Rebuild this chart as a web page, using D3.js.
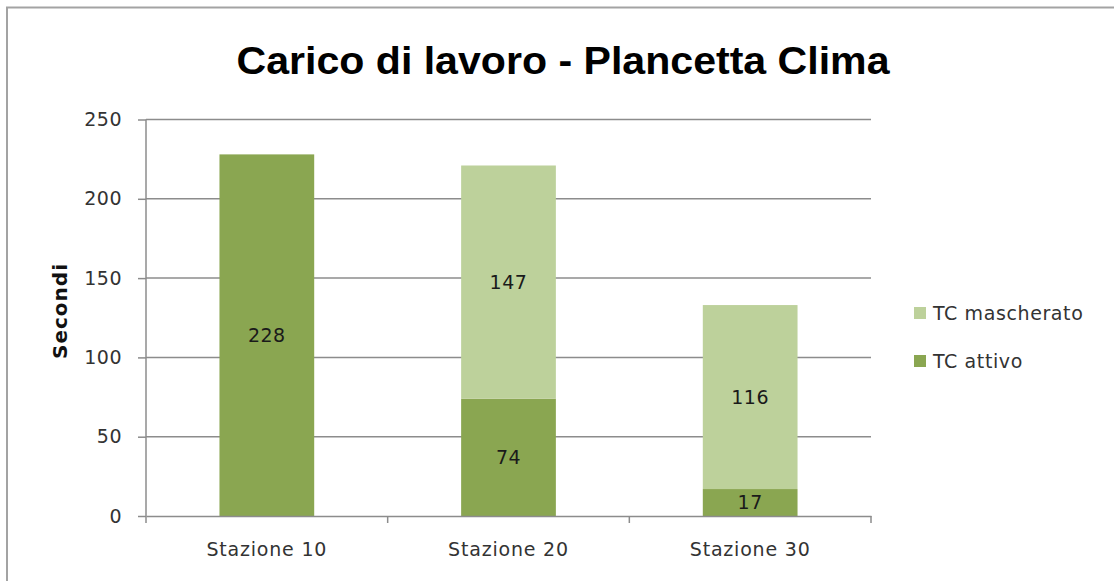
<!DOCTYPE html>
<html>
<head>
<meta charset="utf-8">
<script src="https://cdn.jsdelivr.net/npm/d3@7"></script>
<style>
body { margin: 0; background: #fff; }
text { font-family: "DejaVu Sans", sans-serif; }
</style>
</head>
<body>
<svg id="chart" width="1114" height="581"></svg>
<script>
var stations = ["Stazione 10", "Stazione 20", "Stazione 30"];
var attivo = [228, 74, 17];
var mascherato = [0, 147, 116];
var seriesNames = ["TC attivo", "TC mascherato"];
var seriesColors = ["#8aa651", "#bdd19b"];
var yTicks = [0, 50, 100, 150, 200, 250];

var svg = d3.select("#chart");
var margin = {left: 146, right: 243, top: 119.5, bottom: 65};
var width = 1114, height = 581;

// outer frame
svg.append("path")
	.attr("d", "M 7 581 L 7 7.5 L 1114 7.5")
	.attr("fill", "none")
	.attr("stroke", "#a3a3a3")
	.attr("stroke-width", 2);

var x = d3.scaleBand()
	.domain(stations)
	.range([margin.left, width - margin.right])
	.paddingInner(0.608)
	.paddingOuter(0.304);

var y = d3.scaleLinear()
	.domain([0, 250])
	.range([height - margin.bottom, margin.top]);

// gridlines
svg.append("g").selectAll("line")
	.data(yTicks.slice(1))
	.enter().append("line")
	.attr("x1", margin.left)
	.attr("x2", width - margin.right)
	.attr("y1", function (d) {return y(d);})
	.attr("y2", function (d) {return y(d);})
	.attr("stroke", "#8c8c8c")
	.attr("stroke-width", 1.5);

var rows = stations.map(function (s, i) {
	return {station: s, attivo: attivo[i], mascherato: mascherato[i]};
});
var stack = d3.stack().keys(["attivo", "mascherato"])(rows);

var layer = svg.append("g").selectAll("g")
	.data(stack)
	.enter().append("g")
	.attr("fill", function (d, i) {return seriesColors[i];});

layer.selectAll("rect")
	.data(function (d) {return d;})
	.enter().append("rect")
	.attr("x", function (d) {return x(d.data.station);})
	.attr("width", x.bandwidth())
	.attr("y", function (d) {return y(d[1]);})
	.attr("height", function (d) {return y(d[0]) - y(d[1]);});

layer.selectAll("text")
	.data(function (d) {return d.filter(function (v) {return v[1] - v[0] > 0;});})
	.enter().append("text")
	.attr("x", function (d) {return x(d.data.station) + x.bandwidth() / 2;})
	.attr("y", function (d) {return y((d[0] + d[1]) / 2);})
	.attr("dy", "0.36em")
	.attr("text-anchor", "middle")
	.attr("fill", "#1a1a1a")
	.style("font-size", "19px")
	.style("letter-spacing", "0.5px")
	.text(function (d) {return d[1] - d[0];});

// y axis
var yAxis = svg.append("g")
	.attr("transform", "translate(" + margin.left + ",0)")
	.call(d3.axisLeft(y).tickValues(yTicks).tickSize(8).tickPadding(16));
yAxis.select(".domain").attr("stroke", "#8c8c8c").attr("stroke-width", 1.5).attr("d", "M0," + y(250) + "V" + y(0));
yAxis.selectAll(".tick line").attr("stroke", "#8c8c8c").attr("stroke-width", 1.5);
yAxis.selectAll(".tick text").attr("fill", "#333").style("font-size", "19px").style("letter-spacing", "0.5px").style("font-family", "DejaVu Sans");

// x axis
var xAxis = svg.append("g")
	.attr("transform", "translate(0," + y(0) + ")")
	.call(d3.axisBottom(x).tickSize(0).tickPadding(27));
xAxis.select(".domain").attr("stroke", "#8c8c8c").attr("stroke-width", 1.5);
xAxis.selectAll(".tick text").attr("fill", "#333").style("font-size", "19px").style("letter-spacing", "0.8px").style("font-family", "DejaVu Sans");
xAxis.append("g").selectAll("line")
	.data(d3.range(stations.length + 1))
	.enter().append("line")
	.attr("x1", function (i) {return margin.left + i * x.step();})
	.attr("x2", function (i) {return margin.left + i * x.step();})
	.attr("y1", 0)
	.attr("y2", 7)
	.attr("stroke", "#8c8c8c")
	.attr("stroke-width", 1.5);

// axis title
svg.append("text")
	.attr("transform", "translate(67,311) rotate(-90)")
	.attr("text-anchor", "middle")
	.style("font-size", "20px")
	.style("font-weight", "bold")
	.style("letter-spacing", "1px")
	.attr("fill", "#111")
	.text("Secondi");

// title
svg.append("text")
	.attr("x", 563)
	.attr("y", 74)
	.attr("text-anchor", "middle")
	.attr("textLength", 653)
	.attr("lengthAdjust", "spacingAndGlyphs")
	.style("font-family", "'Liberation Sans Narrow', 'Liberation Sans', sans-serif")
	.style("font-size", "38px")
	.style("font-weight", "bold")
	.attr("fill", "#000")
	.text("Carico di lavoro - Plancetta Clima");

// legend (reversed order like the stack)
var legendItems = [1, 0];
var legend = svg.append("g").selectAll("g")
	.data(legendItems)
	.enter().append("g")
	.attr("transform", function (d, i) {return "translate(914," + (313 + i * 48) + ")";});
legend.append("rect")
	.attr("x", 0).attr("y", -6)
	.attr("width", 12).attr("height", 12)
	.attr("fill", function (d) {return seriesColors[d];});
legend.append("text")
	.attr("x", 19)
	.attr("dy", "0.36em")
	.attr("fill", "#333")
	.style("font-size", "19px")
	.style("letter-spacing", "0.6px")
	.text(function (d) {return seriesNames[d];});
</script>
</body>
</html>
